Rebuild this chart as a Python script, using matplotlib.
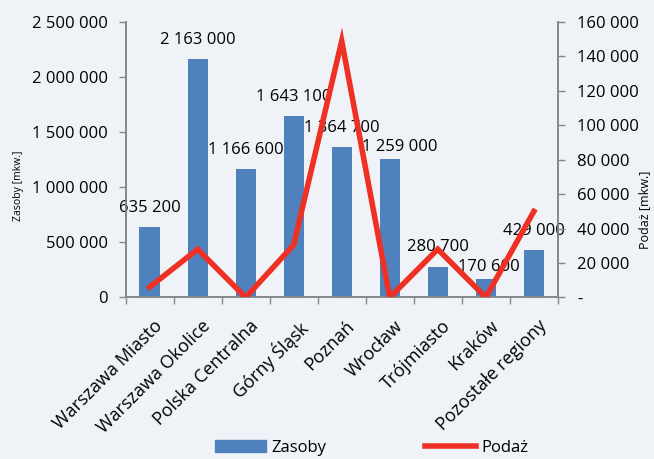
import numpy as np
import matplotlib
matplotlib.use("Agg")
import matplotlib.pyplot as plt
import matplotlib.transforms as mtransforms
from matplotlib.ticker import FuncFormatter, MultipleLocator
from matplotlib.lines import Line2D
from matplotlib.patches import Patch

plt.rcParams['font.family'] = ['Open Sans', 'DejaVu Sans']

# data
regions = ["Warszawa Miasto", "Warszawa Okolice", "Polska Centralna", "Górny Śląsk",
           "Poznań", "Wrocław", "Trójmiasto", "Kraków", "Pozostałe regiony"]
zasoby = [635200, 2163000, 1166600, 1643100, 1364700, 1259000, 280700, 170600, 429000]
podaz = [6000, 28000, 0, 30500, 149000, 0, 28000, 0, 50000]

BG = "#eff3f7"
BAR = "#4f81bd"
RED = "#ee3124"
GREY = "#868686"

# label nudges (points) - two labels were pulled down in the original
label_offsets = [(0, 8)] * 5 + [(7, 2.5), (0, 8), (2, 2.5), (0, 8)]


def spaced(v, pos=None):
    return f"{int(round(v)):,}".replace(",", " ")


def spaced_dash(v, pos=None):
    if v == 0:
        return "-"
    return spaced(v)


fig = plt.figure(figsize=(6.54, 4.59), dpi=100, facecolor=BG)
ax = fig.add_axes([0.192, 0.352, 0.661, 0.600])
ax.set_facecolor(BG)
ax2 = ax.twinx()

x = np.arange(len(regions))
ax.bar(x, zasoby, width=0.42, color=BAR, zorder=2)
for xi, v, off in zip(x, zasoby, label_offsets):
    ax.annotate(spaced(v), (xi, v), xytext=off, textcoords="offset points",
                ha="center", va="bottom", fontsize=12, color="black", zorder=5)

ax2.plot(x, podaz, color=RED, lw=4, solid_joinstyle="miter", zorder=3)

ax.set_xlim(-0.5, len(regions) - 0.5)
ax.set_ylim(0, 2500000)
ax2.set_ylim(0, 160000)
ax.yaxis.set_major_locator(MultipleLocator(500000))
ax2.yaxis.set_major_locator(MultipleLocator(20000))
ax.yaxis.set_major_formatter(FuncFormatter(spaced))
ax2.yaxis.set_major_formatter(FuncFormatter(spaced_dash))

ax.set_xticks(x)
ax.set_xticklabels(regions, rotation=45, ha="right", va="top",
                   rotation_mode="anchor", fontsize=13)
ax.tick_params(axis="x", length=0, pad=14)
shift = mtransforms.ScaledTranslation(0.04, 0, fig.dpi_scale_trans)
for lab in ax.get_xticklabels():
    lab.set_transform(lab.get_transform() + shift)
ax.set_xticks(np.arange(len(regions) + 1) - 0.5, minor=True)
ax.tick_params(axis="x", which="minor", length=5, color=GREY, width=1)

ax.tick_params(axis="y", labelsize=12, length=5, color=GREY, width=1, pad=8)
ax2.tick_params(axis="y", labelsize=12, length=5, color=GREY, width=1, pad=9)

for a in (ax, ax2):
    a.spines["top"].set_visible(False)
    for s in ("left", "right", "bottom"):
        a.spines[s].set_color(GREY)
        a.spines[s].set_linewidth(1.2)

# axis titles sit a bit below the axis middle, like in the source
fig.text(0.028, 0.595, "Zasoby [mkw.]", rotation=90, fontsize=7.5,
         ha="center", va="center")
fig.text(0.985, 0.542, "Podaż [mkw.]", rotation=90, fontsize=9,
         ha="center", va="center")

handles = [Patch(color=BAR), Line2D([0], [0], color=RED, lw=4)]
fig.legend(handles, ["Zasoby", "Podaż"], loc="center", ncol=2,
           bbox_to_anchor=(0.568, 0.024), frameon=False, fontsize=12,
           columnspacing=5.9, handlelength=3.1, handletextpad=0.3)

fig.savefig("out.png", dpi=100, facecolor=BG)
